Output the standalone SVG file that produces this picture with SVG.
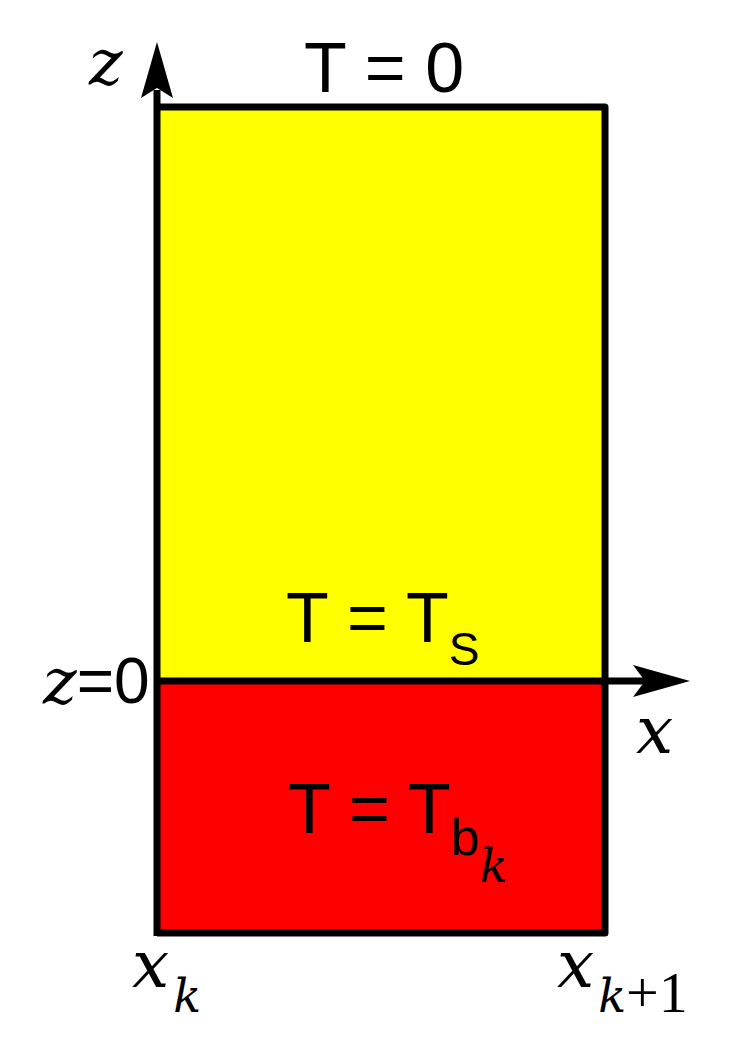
<svg xmlns="http://www.w3.org/2000/svg" width="748" height="1045" viewBox="0 0 748 1045">
<style>
.sans{font-family:"Liberation Sans",Arial,sans-serif;fill:#000}
.it{font-family:"DejaVu Serif","Liberation Serif",serif;font-style:italic;fill:#000}
.ln{stroke:#000;stroke-width:7;fill:none}
</style>
<rect width="748" height="1045" fill="#fff"/>
<g id="yellow"><rect x="157" y="107" width="448" height="574" fill="#ffff00"/></g>
<g id="red"><rect x="157" y="681" width="448" height="252" fill="#ff0000"/></g>
<g id="connectors">
<line class="ln" x1="157" y1="936" x2="157" y2="90"/>
<path d="M157,42 L173,98 L157,88 L141,98 Z" fill="#000"/>
<line class="ln" x1="157" y1="681" x2="645" y2="681"/>
<path d="M690,681 L633,697 L645,681 L633,665 Z" fill="#000"/>
<path class="ln" d="M157,107 H605 V933 H157" stroke-linejoin="round"/>
</g>
<g id="labels">
<text class="sans" x="384" y="92" font-size="70" text-anchor="middle">T = 0</text>
<text class="sans" x="286" y="642" font-size="70">T = T<tspan font-size="46" dy="23">S</tspan></text>
<text class="sans" x="288" y="833" font-size="70">T = T<tspan font-size="52" dy="22">b</tspan><tspan class="it" font-size="46" dy="27">k</tspan></text>
<text class="it" x="89" y="84" font-size="64">z</text>
<text x="43" y="703" font-size="64"><tspan class="it" font-size="64">z</tspan><tspan class="sans">=0</tspan></text>
<text class="it" x="636" y="753" font-size="66">x</text>
<text class="it" x="132" y="987" font-size="66">x<tspan font-size="46" dy="25" dx="4">k</tspan></text>
<text class="it" x="557" y="987" font-size="66">x<tspan font-size="46" dy="25" dx="4">k</tspan><tspan font-style="normal" font-family="Liberation Serif" font-size="58">+1</tspan></text>
</g>
</svg>
